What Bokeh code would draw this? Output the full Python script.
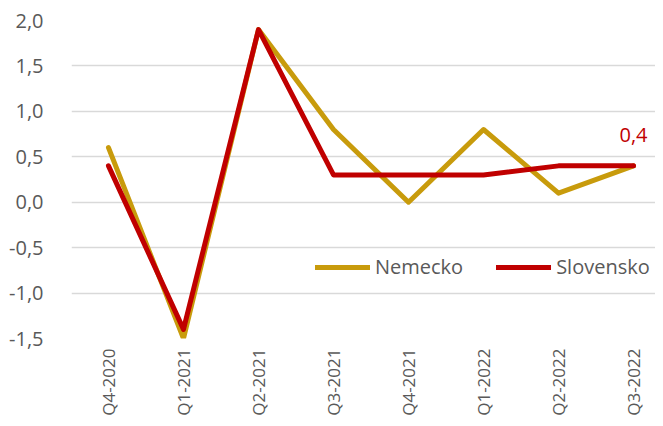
import math
from bokeh.plotting import figure
from bokeh.models import (Range1d, FixedTicker, CustomJSTickFormatter, Legend,
                          LegendItem, Label, ColumnDataSource)
from bokeh.embed import file_html
from bokeh.resources import INLINE

quarters = ["Q4-2020", "Q1-2021", "Q2-2021", "Q3-2021", "Q4-2021",
            "Q1-2022", "Q2-2022", "Q3-2022"]
nemecko = [0.6, -1.5, 1.9, 0.8, 0.0, 0.8, 0.1, 0.4]
slovensko = [0.4, -1.4, 1.9, 0.3, 0.3, 0.3, 0.4, 0.4]
y_ticks = [-1.5, -1.0, -0.5, 0.0, 0.5, 1.0, 1.5, 2.0]

GOLD = "#C89B0C"
RED = "#C00000"
GRID = "#D9D9D9"
TXT = "#595959"
FONT = "Open Sans"

idx = list(range(len(quarters)))
src = ColumnDataSource(dict(x=idx, de=nemecko, sk=slovensko))

p = figure(width=655, height=418, output_backend="svg", toolbar_location=None,
           x_range=Range1d(-0.493, 7.293), y_range=Range1d(-1.5, 2.0),
           min_border_left=71, min_border_right=0, min_border_top=20,
           min_border_bottom=72)
p.outline_line_color = None
p.background_fill_color = "white"
p.border_fill_color = "white"

p.xgrid.grid_line_color = None
p.ygrid.grid_line_color = GRID
p.ygrid.grid_line_width = 1.5
p.yaxis.ticker = FixedTicker(ticks=y_ticks)
p.yaxis.formatter = CustomJSTickFormatter(code="return tick.toFixed(1).replace('.', ',');")
p.yaxis.axis_line_color = None
p.yaxis.major_tick_line_color = None
p.yaxis.minor_tick_line_color = None
p.yaxis.major_label_standoff = 22
p.yaxis.major_label_text_font = FONT
p.yaxis.major_label_text_font_size = "20px"
p.yaxis.major_label_text_color = TXT

p.xaxis.ticker = FixedTicker(ticks=idx)
p.xaxis.major_label_overrides = {i: q for i, q in zip(idx, quarters)}
p.xaxis.major_label_orientation = math.pi / 2
p.xaxis.axis_line_color = None
p.xaxis.major_tick_line_color = None
p.xaxis.minor_tick_line_color = None
p.xaxis.major_label_standoff = 4
p.xaxis.major_label_text_font = FONT
p.xaxis.major_label_text_font_size = "17px"
p.xaxis.major_label_text_color = TXT

r_de = p.line("x", "de", source=src, line_color=GOLD, line_width=5,
              line_join="round", line_cap="round")
r_sk = p.line("x", "sk", source=src, line_color=RED, line_width=5,
              line_join="round", line_cap="round")

lbl = Label(x=idx[-1], y=slovensko[-1], text=f"{slovensko[-1]:.1f}".replace(".", ","),
            text_color=RED, text_font=FONT, text_font_size="20px",
            text_align="center", text_baseline="middle", y_offset=31)
p.add_layout(lbl)

legend = Legend(items=[LegendItem(label="Nemecko", renderers=[r_de]),
                       LegendItem(label="Slovensko", renderers=[r_sk])],
                location=(244, 58), orientation="horizontal",
                border_line_color=None, background_fill_alpha=1.0,
                padding=0, margin=0, spacing=33, label_standoff=5,
                glyph_width=55, glyph_height=20,
                label_text_font=FONT, label_text_font_size="20px",
                label_text_color=TXT)
p.add_layout(legend)

open("out.html", "w").write(file_html(p, INLINE))
